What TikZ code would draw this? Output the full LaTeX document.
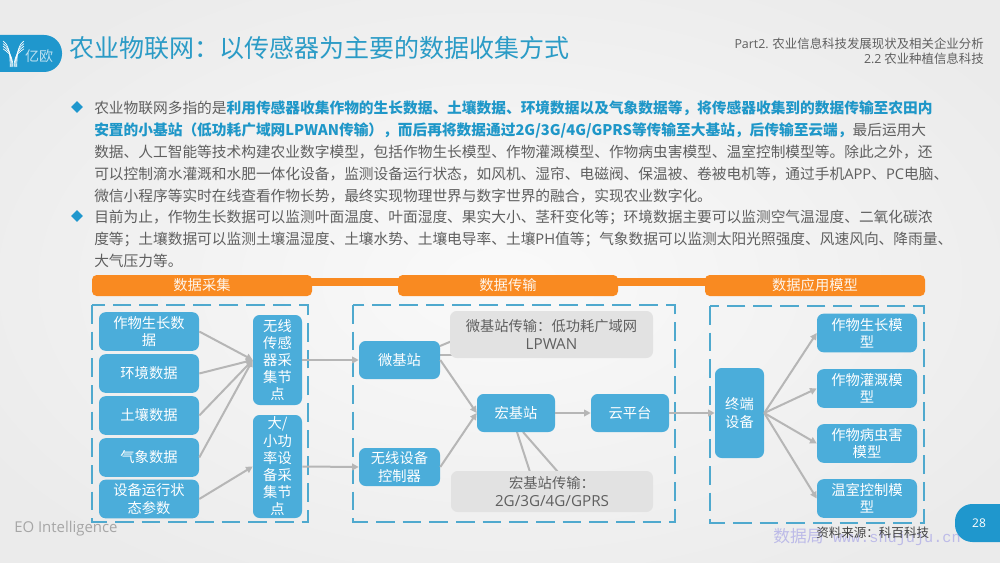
\documentclass[tikz,border=0pt]{standalone}
\usepackage{fontspec}
\setmainfont{Noto Sans CJK SC}
\newfontfamily\lat{Open Sans}
\newfontfamily\wm{Liberation Mono}
\usetikzlibrary{shapes.geometric,arrows.meta}
\definecolor{bluebox}{HTML}{4BADDA}
\definecolor{brand}{HTML}{1F97CD}
\definecolor{titlec}{HTML}{2B9BC6}
\definecolor{orangeb}{HTML}{F98A21}
\definecolor{dashc}{HTML}{4FA9CE}
\definecolor{arrowc}{HTML}{B6B6B6}
\definecolor{grayb}{HTML}{E2E2E2}
\definecolor{bodyc}{HTML}{5F5F5F}
\definecolor{boldc}{HTML}{1F97C8}
\definecolor{wmc}{HTML}{BDBBE8}
\newcommand{\hl}[1]{\textbf{\textcolor{boldc}{#1}}}
\newcommand{\boxfont}{\fontsize{10.7}{12.9}\selectfont}
\newcommand{\biglat}[1]{{\lat\fontsize{11.4}{12.9}\selectfont #1}}
\tikzset{
 bbox/.style={fill=bluebox,rounded corners=5pt,text=white,align=center,inner sep=0pt,font=\boxfont},
 gbox/.style={fill=grayb,rounded corners=5pt,text=bodyc,align=center,inner sep=0pt,font=\boxfont},
 obar/.style={fill=orangeb,rounded corners=3.5pt,text=white!92!orangeb,inner sep=0pt,minimum width=165pt,minimum height=15.75pt,font=\fontsize{10.7}{12.9}\selectfont},
 frame/.style={draw=dashc,line width=1.5pt,dash pattern=on 14pt off 6pt},
 conn/.style={draw=arrowc,line width=1.5pt,-{Triangle[length=5pt,width=5pt]}},
 plain/.style={draw=arrowc,line width=1.5pt},
 bodyline/.style={anchor=west,inner sep=0pt,text=bodyc,font=\fontsize{11.03}{13}\selectfont},
 bullet/.style={diamond,fill=brand,minimum width=9pt,minimum height=9pt,inner sep=0pt},
}
\begin{document}
\begin{tikzpicture}[x=0.75pt,y=-0.75pt]
\useasboundingbox (0,0) rectangle (1000,563);
\fill[inner color=white!96!gray, outer color=black!8] (-120,-80) rectangle (1120,643);
% header
\fill[brand,rounded corners=13.5pt] (-30,35) rectangle (62,72);
\begin{scope}[white,line width=.5pt]
\foreach \d in {0,1,2,3}{
 \draw (3,41+\d*2.6) .. controls (7,44+\d*2.6) and (10.2+\d*.9,48+\d*2) .. (10.2+\d*.9,67);
 \draw (24,41+\d*2.6) .. controls (20,44+\d*2.6) and (16.8-\d*.9,48+\d*2) .. (16.8-\d*.9,67);
}
\end{scope}
\node[text=white!70!brand,inner sep=0pt,font=\fontsize{10.5}{11}\selectfont] (logo) at (39,56) {亿欧};
\node[anchor=west,inner sep=0pt,text=titlec,font=\fontsize{18.75}{22}\selectfont] (title) at (69,48) {农业物联网：以传感器为主要的数据收集方式};
\node[anchor=east,inner sep=0pt,text=bodyc,font=\fontsize{9.32}{11}\selectfont] (h1) at (984,44) {{\lat Part2.} 农业信息科技发展现状及相关企业分析};
\node[anchor=east,inner sep=0pt,text=bodyc,font=\fontsize{9.32}{11}\selectfont] (h2) at (984,59) {{\lat 2.2} 农业种植信息科技};
% body
\node[bullet] (b1) at (77,107) {};
\node[bullet] (b2) at (77,216) {};
\node[bodyline] (l1) at (94,108) {农业物联网多指的是\hl{利用传感器收集作物的生长数据、土壤数据、环境数据以及气象数据等，将传感器收集到的数据传输至农田内}};
\node[bodyline] (l2) at (94,130) {\hl{安置的小基站（低功耗广域网LPWAN传输），而后再将数据通过2G/3G/4G/GPRS等传输至大基站，后传输至云端，}最后运用大};
\node[bodyline] (l3) at (94,152) {数据、人工智能等技术构建农业数字模型，包括作物生长模型、作物灌溉模型、作物病虫害模型、温室控制模型等。除此之外，还};
\node[bodyline] (l4) at (94,174) {可以控制滴水灌溉和水肥一体化设备，监测设备运行状态，如风机、湿帘、电磁阀、保温被、卷被电机等，通过手机{\lat APP}、{\lat PC}电脑、};
\node[bodyline] (l5) at (94,196) {微信小程序等实时在线查看作物长势，最终实现物理世界与数字世界的融合，实现农业数字化。};
\node[bodyline] (l6) at (94,217) {目前为止，作物生长数据可以监测叶面温度、叶面湿度、果实大小、茎秆变化等；环境数据主要可以监测空气温湿度、二氧化碳浓};
\node[bodyline] (l7) at (94,239) {度等；土壤数据可以监测土壤温湿度、土壤水势、土壤电导率、土壤{\lat PH}值等；气象数据可以监测太阳光照强度、风速风向、降雨量、};
\node[bodyline] (l8) at (94,261) {大气压力等。};
% orange band
\fill[orangeb] (200,278) rectangle (820,286);
\node[obar] (o1) at (202,285.5) {数据采集};
\node[obar] (o2) at (508,285.5) {数据传输};
\node[obar] (o3) at (815,285.5) {数据应用模型};
% frames
\draw[frame] (92,305) rectangle (308,522);
\draw[frame] (353,305) rectangle (675,522);
\draw[frame] (710,306) rectangle (924,523);
% left column
\node[bbox,minimum width=75pt,minimum height=29pt] (a1) at (149,331.5) {作物生长数\\据};
\node[bbox,minimum width=75pt,minimum height=29pt] (a2) at (149,373.5) {环境数据};
\node[bbox,minimum width=75pt,minimum height=29pt] (a3) at (149,415.5) {土壤数据};
\node[bbox,minimum width=75pt,minimum height=29pt] (a4) at (149,457.5) {气象数据};
\node[bbox,minimum width=75pt,minimum height=29pt] (a5) at (149,499) {设备运行状\\态参数};
\node[bbox,minimum width=36.75pt,minimum height=67.5pt] (c1) at (277.5,360) {无线\\传感\\器采\\集节\\点};
\node[bbox,minimum width=36.75pt,minimum height=77.25pt] (c2) at (277.5,466.5) {大/\\小功\\率设\\备采\\集节\\点};
% middle
\coordinate (mt1) at (440,346);
\coordinate (mt2) at (440,355);
\coordinate (gl1) at (452,341);
\coordinate (gl2) at (452,355);
\coordinate (mb1) at (517,432);
\coordinate (mb2) at (523,432);
\coordinate (gt1) at (530,472);
\coordinate (gt2) at (558,472);
\draw[plain] (mt1) -- (gl1);
\draw[plain] (mt2) -- (gl2);
\draw[plain] (mb1) -- (gt1);
\draw[plain] (mb2) -- (gt2);
\node[gbox,minimum width=152.25pt,minimum height=35.25pt] (g1) at (551.5,334.5) {微基站传输：低功耗广域网\\\biglat{LPWAN}};
\node[gbox,minimum width=151.5pt,minimum height=30.75pt] (g2) at (552,491.5) {宏基站传输：\\\biglat{2G/3G/4G/GPRS}};
\node[bbox,minimum width=60.75pt,minimum height=28.5pt] (m1) at (399.5,360) {微基站};
\node[bbox,minimum width=60.75pt,minimum height=28.5pt] (m2) at (399.5,467) {无线设备\\控制器};
\node[bbox,minimum width=58.5pt,minimum height=28.5pt] (m3) at (516,413) {宏基站};
\node[bbox,minimum width=58.5pt,minimum height=28.5pt] (m4) at (630,413) {云平台};
% right
\node[bbox,minimum width=36.75pt,minimum height=67.5pt] (t) at (739.5,413) {终端\\设备};
\node[bbox,minimum width=75pt,minimum height=29pt] (r1) at (867,333) {作物生长模\\型};
\node[bbox,minimum width=75pt,minimum height=29pt] (r2) at (867,388.5) {作物灌溉模\\型};
\node[bbox,minimum width=75pt,minimum height=29pt] (r3) at (867,443.5) {作物病虫害\\模型};
\node[bbox,minimum width=75pt,minimum height=29pt] (r4) at (867,498.5) {温室控制模\\型};
% connectors
\coordinate (c1in) at (c1.west);
\foreach \n in {a1,a2,a3,a4}{\draw[conn] (\n.east) -- (c1in);}
\draw[conn] (a5.east) -- (c2.west);
\draw[conn] (c1.east) -- (m1.west);
\draw[conn] (c2.east) -- (m2.west);
\draw[conn] (m1.east) -- (m3.west);
\draw[conn] (m2.east) -- (m3.west);
\draw[conn] (m3.east) -- (m4.west);
\draw[conn] (m4.east) -- (t.west);
\foreach \n in {r1,r2,r3,r4}{\draw[conn] (t.east) -- (\n.west);}
% footer
\node[anchor=west,inner sep=0pt,text=black!35,font=\lat\fontsize{11.2}{12}\selectfont] (eo) at (14,529) {EO Intelligence};
\node[anchor=west,inner sep=0pt,text=wmc,font=\fontsize{12.6}{14}\selectfont] (wm) at (773,537) {数据局\hspace{7pt}{\wm\fontsize{11.4}{14}\selectfont www.shujuju.cn}};
\node[anchor=west,inner sep=0pt,text=bodyc!70!black,font=\fontsize{9.4}{11}\selectfont] (src) at (816,533) {资料来源：科百科技};
\fill[brand,rounded corners=13pt] (955,504) rectangle (1040,542);
\node[inner sep=0pt,text=white,font=\lat\fontsize{9}{11}\selectfont] (pg) at (979,523) {28};
\end{tikzpicture}
\end{document}
